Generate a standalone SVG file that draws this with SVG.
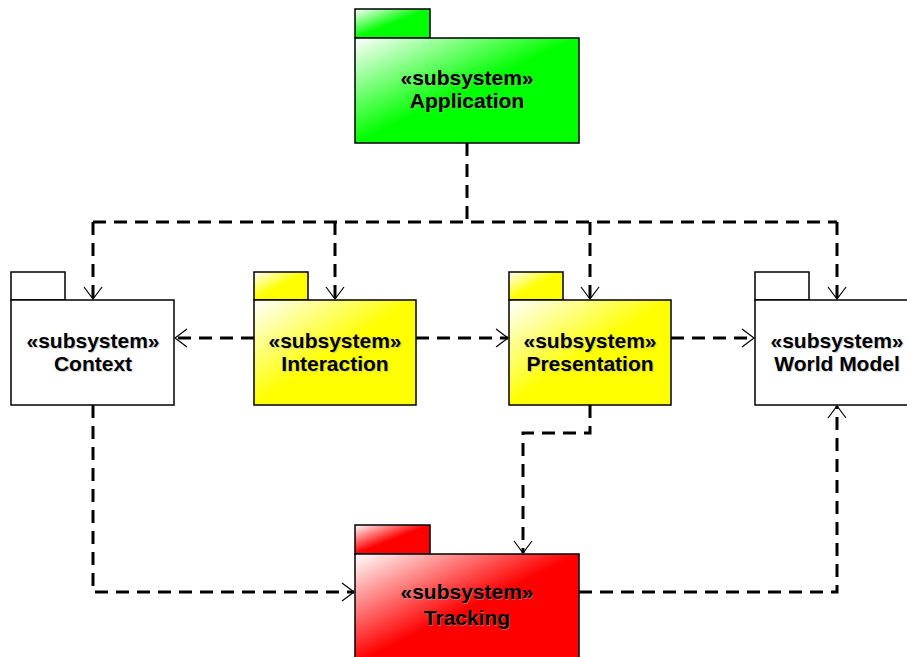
<svg xmlns="http://www.w3.org/2000/svg" width="907" height="657" viewBox="0 0 907 657">
<style>
.b{stroke:#000;stroke-width:1.5}
.t{font-family:"Liberation Sans",Arial,sans-serif;font-weight:bold;font-size:21px;text-anchor:middle;fill:#000;letter-spacing:0px}
.sh{fill:#aaa;opacity:0.5}
.c{fill:none;stroke:#000;stroke-width:3;stroke-dasharray:13 8}
</style>
<defs>
<linearGradient id="gG" x1="0" y1="0" x2="1" y2="1"><stop offset="0" stop-color="#fff"/><stop offset="0.5" stop-color="#00ff00"/><stop offset="1" stop-color="#00ff00"/></linearGradient>
<linearGradient id="gY" x1="0" y1="0" x2="1" y2="1"><stop offset="0" stop-color="#fff"/><stop offset="0.5" stop-color="#ffff00"/><stop offset="1" stop-color="#ffff00"/></linearGradient>
<linearGradient id="gR" x1="0" y1="0" x2="1" y2="1"><stop offset="0" stop-color="#fff"/><stop offset="0.5" stop-color="#ff0000"/><stop offset="1" stop-color="#ff0000"/></linearGradient>
<marker id="a" markerUnits="userSpaceOnUse" markerWidth="30" markerHeight="30" refX="0" refY="0" viewBox="-15 -15 30 30" orient="auto" overflow="visible">
<path d="M-12,-9 L0,0 L-12,9" fill="none" stroke="#000" stroke-width="1.2"/>
</marker>
</defs>
<g id="connectors">
<path class="c" d="M467,143 V222"/>
<path class="c" d="M93,222 H837"/>
<path class="c" d="M93,222 V299" marker-end="url(#a)"/>
<path class="c" d="M335,222 V299" marker-end="url(#a)"/>
<path class="c" d="M590,222 V299" marker-end="url(#a)"/>
<path class="c" d="M837,222 V299" marker-end="url(#a)"/>
<path class="c" d="M254,338 H175" marker-end="url(#a)"/>
<path class="c" d="M416,338 H508" marker-end="url(#a)"/>
<path class="c" d="M671,338 H754" marker-end="url(#a)"/>
<path class="c" d="M590,405 V433 H523 V553" marker-end="url(#a)"/>
<path class="c" d="M93,405 V592 H354" marker-end="url(#a)"/>
<path class="c" d="M579,592 H837 V406" marker-end="url(#a)"/>
</g>
<g id="application">
<rect x="355" y="9" width="75" height="29" fill="url(#gG)" class="b"/>
<rect x="355" y="38" width="224" height="105" fill="url(#gG)" class="b"/>
<text class="t sh" x="468" y="86">«subsystem»</text>
<text class="t" x="467" y="85">«subsystem»</text>
<text class="t sh" x="468" y="109">Application</text>
<text class="t" x="467" y="108">Application</text>
</g>
<g id="context">
<rect x="11" y="272" width="54" height="28" fill="#fff" class="b"/>
<rect x="11" y="300" width="163" height="105" fill="#fff" class="b"/>
<text class="t sh" x="94" y="349">«subsystem»</text>
<text class="t" x="93" y="348">«subsystem»</text>
<text class="t sh" x="94" y="372">Context</text>
<text class="t" x="93" y="371">Context</text>
</g>
<g id="interaction">
<rect x="254" y="272" width="54" height="28" fill="url(#gY)" class="b"/>
<rect x="254" y="300" width="162" height="105" fill="url(#gY)" class="b"/>
<text class="t sh" x="336" y="349">«subsystem»</text>
<text class="t" x="335" y="348">«subsystem»</text>
<text class="t sh" x="336" y="372">Interaction</text>
<text class="t" x="335" y="371">Interaction</text>
</g>
<g id="presentation">
<rect x="509" y="272" width="54" height="28" fill="url(#gY)" class="b"/>
<rect x="509" y="300" width="162" height="105" fill="url(#gY)" class="b"/>
<text class="t sh" x="591" y="349">«subsystem»</text>
<text class="t" x="590" y="348">«subsystem»</text>
<text class="t sh" x="591" y="372">Presentation</text>
<text class="t" x="590" y="371">Presentation</text>
</g>
<g id="worldmodel">
<rect x="755" y="272" width="54" height="28" fill="#fff" class="b"/>
<rect x="755" y="300" width="163" height="105" fill="#fff" class="b"/>
<text class="t sh" x="838" y="349">«subsystem»</text>
<text class="t" x="837" y="348">«subsystem»</text>
<text class="t sh" x="838" y="372">World Model</text>
<text class="t" x="837" y="371">World Model</text>
</g>
<g id="tracking">
<rect x="355" y="525" width="75" height="29" fill="url(#gR)" class="b"/>
<rect x="355" y="554" width="224" height="110" fill="url(#gR)" class="b"/>
<text class="t sh" x="468" y="600">«subsystem»</text>
<text class="t" x="467" y="599">«subsystem»</text>
<text class="t sh" x="468" y="626">Tracking</text>
<text class="t" x="467" y="625">Tracking</text>
</g>
</svg>
